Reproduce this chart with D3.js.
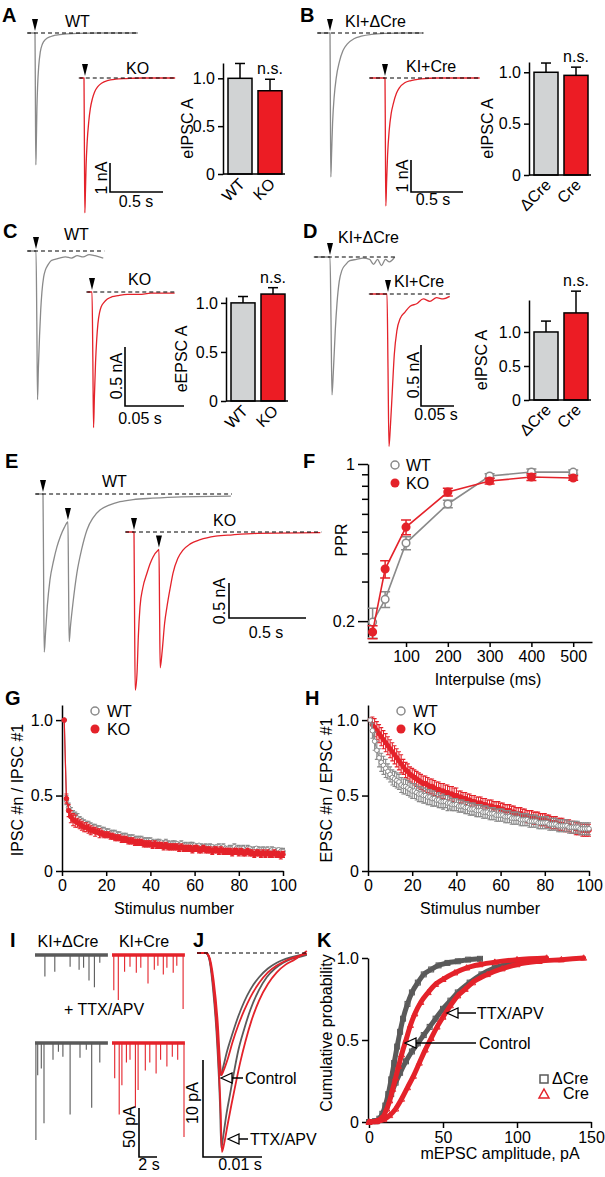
<!DOCTYPE html>
<html>
<head>
<meta charset="utf-8">
<script src="https://cdn.jsdelivr.net/npm/d3@7"></script>
<style>
  body { margin: 0; background: #fff; }
  svg { display: block; font-family: "Liberation Sans", Arial, Helvetica, sans-serif; }
</style>
</head>
<body>
<svg id="fig" width="605" height="1177"></svg>
<script>
// ---------- data ----------
// traces: [time (s), current (nA or pA)], stimulus at t = 0
const aWt = [[-0.066,0],[0,0],[0.004,-2.5],[0.008,-4.55],[0.012,-3.9],[0.018,-2.6],[0.025,-1.8],[0.035,-1.15],[0.05,-0.65],[0.07,-0.38],[0.1,-0.22],[0.15,-0.12],[0.2,-0.07],[0.3,-0.03],[0.4,-0.01],[0.6,0],[0.97,0]];
const aKo = [[-0.04,0],[0,0],[0.004,-2.5],[0.008,-4.65],[0.013,-4.0],[0.02,-3.0],[0.03,-2.2],[0.045,-1.5],[0.06,-1.05],[0.08,-0.7],[0.1,-0.48],[0.13,-0.3],[0.17,-0.17],[0.22,-0.09],[0.3,-0.04],[0.4,-0.02],[0.55,0],[0.86,0]];
const bDcre = [[-0.115,0],[0,0],[0.004,-2.5],[0.008,-4.5],[0.015,-3.8],[0.025,-2.8],[0.04,-2.0],[0.06,-1.4],[0.09,-0.9],[0.125,-0.55],[0.17,-0.33],[0.23,-0.18],[0.3,-0.1],[0.4,-0.04],[0.55,-0.01],[0.7,0],[0.89,0]];
const bCre = [[-0.144,0],[0,0],[0.004,-2.2],[0.008,-4.0],[0.015,-3.3],[0.025,-2.4],[0.04,-1.65],[0.06,-1.1],[0.08,-0.8],[0.11,-0.48],[0.14,-0.3],[0.19,-0.15],[0.25,-0.08],[0.35,-0.03],[0.5,0],[0.91,0]];
const cWt = [[-0.0068,0],[0,0],[0.0007,-0.6],[0.0013,-1.26],[0.002,-1.0],[0.003,-0.72],[0.004,-0.5],[0.005,-0.35],[0.0065,-0.22],[0.008,-0.16],[0.01,-0.12],[0.013,-0.08],[0.016,-0.07],[0.02,-0.06],[0.025,-0.05],[0.03,-0.06],[0.035,-0.04],[0.04,-0.05],[0.045,-0.03],[0.05,-0.04],[0.057,-0.06]];
const cKo = [[-0.004,0],[0,0],[0.0007,-0.55],[0.0013,-1.15],[0.002,-0.9],[0.003,-0.6],[0.004,-0.4],[0.005,-0.27],[0.0065,-0.17],[0.008,-0.12],[0.01,-0.09],[0.013,-0.06],[0.017,-0.04],[0.022,-0.03],[0.03,-0.02],[0.04,-0.02],[0.05,-0.01],[0.07,-0.01]];
const dDcre = [[-0.023,0],[0,0],[0.0015,-0.5],[0.003,-1.13],[0.005,-0.95],[0.008,-0.6],[0.0106,-0.38],[0.014,-0.2],[0.018,-0.11],[0.024,-0.06],[0.03,-0.03],[0.04,-0.02],[0.05,-0.01],[0.06,-0.02],[0.066,-0.06],[0.072,-0.02],[0.078,-0.07],[0.084,-0.02],[0.09,-0.04],[0.098,0]];
const dCre = [[-0.026,0],[0,0],[0.0015,-0.6],[0.003,-1.25],[0.005,-1.1],[0.008,-0.8],[0.011,-0.5],[0.015,-0.3],[0.02,-0.2],[0.027,-0.15],[0.035,-0.1],[0.045,-0.08],[0.055,-0.04],[0.065,-0.06],[0.075,-0.03],[0.085,-0.04],[0.095,-0.02]];
const eWt = [[-0.045,0],[0,0],[0.004,-1.2],[0.008,-2.26],[0.016,-2.0],[0.028,-1.6],[0.045,-1.23],[0.069,-0.95],[0.09,-0.76],[0.114,-0.6],[0.138,-0.48],[0.162,-0.4],[0.166,-1.3],[0.17,-2.11],[0.178,-1.9],[0.195,-1.55],[0.22,-1.13],[0.252,-0.78],[0.286,-0.51],[0.325,-0.34],[0.37,-0.23],[0.43,-0.16],[0.5,-0.11],[0.585,-0.08],[0.71,-0.06],[0.9,-0.04],[1.22,-0.03]];
const eKo = [[-0.052,0],[0,0],[0.004,-1.3],[0.008,-2.26],[0.02,-2.0],[0.028,-1.5],[0.039,-1.07],[0.057,-0.8],[0.084,-0.59],[0.105,-0.45],[0.123,-0.36],[0.156,-0.26],[0.162,-0.25],[0.166,-1.1],[0.17,-1.94],[0.183,-1.7],[0.199,-1.3],[0.214,-1.07],[0.235,-0.8],[0.253,-0.59],[0.284,-0.38],[0.318,-0.26],[0.365,-0.17],[0.43,-0.11],[0.53,-0.06],[0.64,-0.04],[0.8,-0.02],[1.21,-0.01]];
const ePulseTimes = [0, 0.162];

// bar graphs
const barLabelsWtKo = ['WT', 'KO'];
const barLabelsCre = ['\u0394Cre', 'Cre'];
const barAValues = [1.0, 0.87], barAErrors = [0.155, 0.12];
const barBValues = [1.0, 0.97], barBErrors = [0.09, 0.08];
const barCValues = [1.0, 1.09], barCErrors = [0.065, 0.065];
const barDValues = [1.0, 1.28], barDErrors = [0.16, 0.32];
const barTicks = [0, 0.5, 1.0];

// F: paired-pulse ratio
const fInterpulse = [20, 50, 100, 200, 300, 400, 500];
const fWt = [0.198, 0.25, 0.445, 0.664, 0.884, 0.921, 0.92];
const fWtErr = [0.03, 0.02, 0.03, 0.025, 0.02, 0.03, 0.02];
const fKo = [0.179, 0.341, 0.524, 0.75, 0.84, 0.875, 0.866];
const fKoErr = [0.012, 0.03, 0.04, 0.03, 0.025, 0.03, 0.02];
const fXTicks = [100, 200, 300, 400, 500];
const fYTicks = [0.2, 0.3, 0.4, 0.5, 0.6, 0.7, 0.8, 0.9, 1];

// G: IPSC train (stimulus 1..100)
const gWt = [
  1.00,0.47,0.42,0.39,0.37,0.36,0.35,0.34,0.33,0.32,
  0.31,0.31,0.30,0.29,0.29,0.28,0.28,0.27,0.27,0.26,
  0.26,0.25,0.25,0.25,0.24,0.24,0.23,0.23,0.23,0.22,
  0.22,0.22,0.21,0.21,0.21,0.21,0.20,0.20,0.20,0.20,
  0.19,0.19,0.19,0.19,0.19,0.18,0.19,0.18,0.18,0.18,
  0.18,0.18,0.17,0.18,0.17,0.17,0.17,0.17,0.17,0.17,
  0.16,0.17,0.16,0.16,0.16,0.16,0.16,0.16,0.15,0.16,
  0.16,0.15,0.16,0.15,0.15,0.15,0.15,0.16,0.15,0.15,
  0.15,0.15,0.14,0.15,0.15,0.14,0.14,0.15,0.14,0.14,
  0.14,0.14,0.14,0.13,0.14,0.14,0.13,0.14,0.13,0.13];
const gWtErr = [
  0,0.03,0.03,0.03,0.03,0.03,0.03,0.02,0.02,0.02,
  0.02,0.02,0.02,0.02,0.02,0.02,0.02,0.02,0.02,0.02,
  0.02,0.02,0.02,0.02,0.02,0.02,0.02,0.02,0.02,0.02,
  0.02,0.02,0.02,0.02,0.02,0.02,0.02,0.02,0.02,0.02,
  0.02,0.01,0.02,0.02,0.01,0.02,0.02,0.02,0.01,0.02,
  0.02,0.01,0.02,0.02,0.01,0.02,0.01,0.02,0.02,0.01,
  0.02,0.01,0.02,0.01,0.02,0.01,0.02,0.01,0.02,0.01,
  0.02,0.01,0.02,0.01,0.01,0.02,0.01,0.02,0.01,0.02,
  0.01,0.02,0.01,0.02,0.01,0.01,0.02,0.01,0.02,0.01,
  0.02,0.01,0.02,0.01,0.02,0.01,0.02,0.01,0.02,0.02];
const gKo = [
  1.00,0.48,0.40,0.36,0.34,0.33,0.32,0.31,0.30,0.29,
  0.29,0.28,0.27,0.27,0.26,0.26,0.25,0.25,0.24,0.24,
  0.24,0.23,0.23,0.22,0.22,0.22,0.21,0.21,0.21,0.20,
  0.20,0.20,0.19,0.19,0.19,0.19,0.18,0.18,0.18,0.18,
  0.17,0.18,0.17,0.17,0.17,0.16,0.17,0.16,0.16,0.16,
  0.16,0.16,0.15,0.16,0.15,0.15,0.15,0.15,0.14,0.15,
  0.15,0.14,0.14,0.15,0.14,0.14,0.14,0.13,0.14,0.14,
  0.13,0.14,0.13,0.13,0.13,0.13,0.12,0.13,0.13,0.12,
  0.13,0.12,0.12,0.13,0.12,0.12,0.11,0.12,0.12,0.11,
  0.12,0.11,0.12,0.11,0.11,0.12,0.11,0.11,0.10,0.11];
const gKoErr = [
  0,0.03,0.04,0.04,0.04,0.04,0.03,0.03,0.03,0.03,
  0.03,0.03,0.03,0.02,0.03,0.02,0.03,0.02,0.02,0.02,
  0.02,0.02,0.02,0.02,0.02,0.02,0.02,0.02,0.02,0.02,
  0.02,0.02,0.02,0.02,0.02,0.02,0.02,0.02,0.02,0.02,
  0.02,0.02,0.02,0.02,0.02,0.02,0.02,0.02,0.02,0.02,
  0.02,0.02,0.02,0.02,0.02,0.02,0.02,0.02,0.02,0.02,
  0.02,0.02,0.02,0.02,0.02,0.02,0.02,0.02,0.02,0.02,
  0.02,0.02,0.02,0.02,0.02,0.02,0.02,0.02,0.02,0.02,
  0.02,0.02,0.02,0.02,0.02,0.02,0.02,0.02,0.02,0.02,
  0.02,0.02,0.02,0.02,0.02,0.02,0.02,0.02,0.02,0.02];

// H: EPSC train
const hWt = [
  1.00,0.93,0.86,0.80,0.75,0.72,0.70,0.68,0.66,0.64,
  0.62,0.61,0.60,0.59,0.57,0.56,0.56,0.55,0.54,0.53,
  0.53,0.52,0.51,0.51,0.50,0.50,0.49,0.49,0.48,0.48,
  0.47,0.47,0.46,0.46,0.46,0.45,0.45,0.44,0.44,0.44,
  0.43,0.43,0.43,0.42,0.42,0.41,0.41,0.41,0.40,0.40,
  0.40,0.39,0.39,0.39,0.38,0.38,0.38,0.37,0.37,0.37,
  0.37,0.36,0.36,0.36,0.35,0.35,0.35,0.35,0.34,0.34,
  0.34,0.34,0.33,0.33,0.33,0.33,0.32,0.32,0.32,0.32,
  0.32,0.31,0.31,0.31,0.31,0.30,0.30,0.30,0.30,0.30,
  0.29,0.29,0.29,0.29,0.29,0.28,0.28,0.28,0.28,0.28];
const hWtErr = [
  0,0.05,0.06,0.06,0.06,0.06,0.06,0.06,0.05,0.05,
  0.05,0.05,0.05,0.05,0.05,0.05,0.05,0.05,0.05,0.05,
  0.05,0.05,0.05,0.05,0.05,0.05,0.05,0.05,0.05,0.05,
  0.04,0.05,0.04,0.05,0.04,0.05,0.04,0.04,0.04,0.04,
  0.04,0.04,0.04,0.04,0.04,0.04,0.04,0.04,0.04,0.04,
  0.04,0.04,0.04,0.04,0.04,0.04,0.04,0.04,0.04,0.04,
  0.04,0.04,0.04,0.04,0.04,0.04,0.04,0.04,0.04,0.04,
  0.04,0.04,0.04,0.04,0.04,0.04,0.04,0.04,0.04,0.04,
  0.04,0.04,0.04,0.04,0.04,0.04,0.04,0.04,0.04,0.04,
  0.04,0.04,0.04,0.04,0.04,0.04,0.04,0.04,0.04,0.04];
const hKo = [
  1.00,0.97,0.95,0.93,0.91,0.89,0.87,0.85,0.83,0.81,
  0.79,0.77,0.75,0.73,0.71,0.69,0.67,0.66,0.64,0.63,
  0.62,0.61,0.60,0.59,0.58,0.58,0.57,0.56,0.56,0.55,
  0.54,0.54,0.53,0.53,0.52,0.52,0.51,0.51,0.50,0.50,
  0.49,0.49,0.48,0.48,0.47,0.47,0.46,0.46,0.45,0.45,
  0.45,0.44,0.44,0.43,0.43,0.43,0.42,0.42,0.42,0.41,
  0.41,0.40,0.40,0.40,0.39,0.39,0.38,0.38,0.38,0.37,
  0.37,0.36,0.36,0.36,0.35,0.35,0.35,0.34,0.34,0.34,
  0.33,0.33,0.32,0.32,0.32,0.31,0.31,0.31,0.30,0.30,
  0.30,0.29,0.29,0.28,0.28,0.28,0.27,0.27,0.27,0.27];
const hKoErr = [
  0,0.05,0.06,0.06,0.06,0.06,0.06,0.06,0.06,0.06,
  0.06,0.06,0.06,0.06,0.06,0.05,0.05,0.05,0.05,0.05,
  0.05,0.05,0.05,0.05,0.05,0.05,0.05,0.05,0.05,0.05,
  0.05,0.05,0.05,0.05,0.05,0.05,0.05,0.05,0.05,0.05,
  0.04,0.04,0.04,0.04,0.04,0.04,0.04,0.04,0.04,0.04,
  0.04,0.04,0.04,0.04,0.04,0.04,0.04,0.04,0.04,0.04,
  0.04,0.04,0.04,0.04,0.04,0.04,0.04,0.04,0.04,0.04,
  0.04,0.04,0.04,0.04,0.04,0.04,0.04,0.04,0.04,0.04,
  0.04,0.04,0.04,0.04,0.04,0.04,0.04,0.04,0.04,0.04,
  0.04,0.04,0.04,0.04,0.04,0.04,0.04,0.04,0.04,0.04];
const trainXTicks = [0, 20, 40, 60, 80, 100];

// I: mEPSC events, time (s) and amplitude (pA)
const iCtrlDcreTime = [1.1, 2.2, 3.9, 4.9, 5.4, 6.0, 6.6, 7.2];
const iCtrlDcreAmp = [22, 17, 12, 15, 13, 26, 33, 8];
const iCtrlCreTime = [0.2, 0.7, 1.4, 2.0, 2.7, 3.2, 4.0, 4.7, 5.1, 5.7, 6.1, 6.8, 7.2, 7.9];
const iCtrlCreAmp = [36, 46, 17, 12, 18, 13, 29, 15, 11, 20, 13, 18, 11, 55];
const iTtxDcreTime = [0.1, 0.3, 0.7, 1.0, 2.0, 2.6, 3.1, 3.9, 5.0, 5.7, 6.3, 7.2];
const iTtxDcreAmp = [99, 33, 26, 82, 17, 9, 14, 73, 15, 7, 66, 20];
const iTtxCreTime = [0.3, 0.8, 1.1, 1.6, 2.0, 2.6, 2.9, 3.7, 4.2, 4.9, 5.4, 6.1, 6.7, 7.3, 8.0];
const iTtxCreAmp = [36, 73, 43, 20, 17, 66, 48, 28, 20, 31, 17, 24, 14, 17, 96];
const iDuration = 8.1;

// J: averaged mEPSCs, [time (s), pA]
const jCtrlDcre = [[-0.001,0],[0.0005,0],[0.001,-0.4],[0.0017,-3.0],[0.0024,-7.5],[0.0028,-11.5],[0.003,-12.6],[0.0034,-11.8],[0.004,-10.3],[0.005,-8.3],[0.006,-6.5],[0.007,-5.0],[0.008,-3.8],[0.0095,-2.5],[0.011,-1.6],[0.0125,-1.0],[0.014,-0.6],[0.0155,-0.35],[0.0176,-0.1]];
const jCtrlCre = [[-0.001,0],[0.0005,0],[0.001,-0.3],[0.0018,-2.8],[0.0025,-7.2],[0.0029,-11.3],[0.0031,-12.6],[0.0035,-12.1],[0.0042,-10.9],[0.005,-9.2],[0.006,-7.4],[0.007,-5.9],[0.008,-4.6],[0.0095,-3.1],[0.011,-2.0],[0.0125,-1.3],[0.014,-0.8],[0.0155,-0.45],[0.0176,-0.1]];
const jTtxDcre = [[-0.001,0],[0.0005,0],[0.001,-0.5],[0.0017,-3.7],[0.0024,-9.3],[0.0029,-16],[0.0031,-20.1],[0.0034,-19],[0.004,-16.5],[0.0046,-14.5],[0.0051,-12.8],[0.006,-10],[0.007,-7.8],[0.008,-5.9],[0.0095,-3.8],[0.0108,-2.5],[0.0122,-1.6],[0.0136,-1.0],[0.015,-0.6],[0.0164,-0.4],[0.0176,-0.2]];
const jTtxCre = [[-0.001,0],[0.0005,0],[0.001,-0.4],[0.0018,-3.8],[0.0025,-9.6],[0.003,-16.5],[0.0032,-20.5],[0.0036,-19.6],[0.0042,-17.6],[0.0048,-15.7],[0.0055,-13.6],[0.0063,-11.3],[0.0072,-9.1],[0.0082,-7.0],[0.0095,-4.9],[0.011,-3.2],[0.0125,-2.0],[0.014,-1.2],[0.0155,-0.7],[0.0176,0.2]];

// K: cumulative distributions, [amplitude (pA), probability]
const kCtrlDcre = [[0,0],[4,0.005],[7,0.02],[9,0.05],[11,0.1],[13,0.17],[15,0.26],[17,0.36],[19,0.46],[21,0.55],[23,0.63],[26,0.72],[29,0.79],[33,0.85],[37,0.9],[42,0.93],[47,0.955],[53,0.97],[60,0.98],[67,0.99],[75,0.995]];
const kCtrlCre = [[0,0],[5,0.005],[8,0.02],[10,0.04],[12,0.08],[14,0.13],[16,0.2],[18,0.27],[20,0.34],[22,0.41],[25,0.5],[28,0.59],[31,0.66],[35,0.73],[40,0.79],[45,0.84],[50,0.87],[58,0.91],[66,0.94],[75,0.96],[85,0.975],[100,0.99],[120,1.0]];
const kTtxDcre = [[0,0],[5,0.005],[8,0.02],[10,0.05],[12,0.1],[15,0.17],[18,0.24],[21,0.3],[25,0.37],[29,0.43],[33,0.48],[37,0.53],[41,0.58],[45,0.63],[50,0.69],[55,0.74],[60,0.79],[68,0.85],[76,0.9],[85,0.94],[95,0.965],[105,0.98],[115,0.99]];
const kTtxCre = [[0,0],[5,0.003],[10,0.015],[14,0.04],[18,0.08],[22,0.14],[26,0.21],[30,0.28],[34,0.36],[38,0.44],[42,0.51],[46,0.58],[50,0.64],[55,0.71],[60,0.77],[65,0.81],[70,0.85],[80,0.9],[90,0.935],[100,0.96],[115,0.98],[130,0.99],[145,1.0]];
const kXTicks = [0, 50, 100, 150];
const kYTicks = [0, 0.5, 1.0];

// ---------- drawing ----------
const GRAY = '#8a8a8a', DARK = '#5a5a5a', RED = '#e4222a';
const BAR_GRAY = '#d1d3d4', BAR_RED = '#ec1c24';
const FONT = '"Liberation Sans", Arial, Helvetica, sans-serif';

const svg = d3.select('#fig');
svg.append('rect').attr('width', 605).attr('height', 1177).attr('fill', '#fff');

function label(x, y, txt, opts = {}) {
  const t = svg.append('text')
    .attr('x', x).attr('y', y)
    .attr('font-size', opts.size || 16)
    .attr('fill', opts.fill || '#000')
    .attr('text-anchor', opts.anchor || 'start')
    .text(txt);
  if (opts.bold) t.attr('font-weight', 'bold');
  if (opts.rotate) t.attr('transform', `rotate(${opts.rotate},${x},${y})`);
  return t;
}

function styleAxis(g, size = 16) {
  g.attr('font-size', size).attr('font-family', FONT);
  g.selectAll('path, line').attr('stroke', '#000').attr('stroke-width', 1.5);
  g.selectAll('text').attr('fill', '#000');
}

// scales for a single trace: stimulus position and baseline
function traceScales(stimX, baseY, pxPerS, pxPerUnit) {
  return {
    x: d3.scaleLinear().domain([0, 1]).range([stimX, stimX + pxPerS]),
    y: d3.scaleLinear().domain([0, -1]).range([baseY, baseY + pxPerUnit])
  };
}

function drawTrace(data, sc, color, width = 1.3, dashed = true) {
  svg.append('path').datum(data)
    .attr('d', d3.line().x(d => sc.x(d[0])).y(d => sc.y(d[1])).curve(d3.curveMonotoneX))
    .attr('fill', 'none').attr('stroke', color).attr('stroke-width', width)
    .attr('stroke-linejoin', 'round');
  if (dashed) {
    svg.append('line')
      .attr('x1', sc.x(data[0][0]) - 1).attr('x2', sc.x(data[data.length - 1][0]) + 1)
      .attr('y1', sc.y(0)).attr('y2', sc.y(0))
      .attr('stroke', '#000').attr('stroke-width', 1.2).attr('stroke-dasharray', '4,3');
  }
}

function arrowhead(x, tipY) {
  svg.append('path')
    .attr('d', `M${x - 3},${tipY - 12}L${x + 3},${tipY - 12}L${x},${tipY}Z`)
    .attr('fill', '#000');
}

function valueAt(data, t) {
  return data.reduce((best, d) => Math.abs(d[0] - t) < Math.abs(best[0] - t) ? d : best)[1];
}

function scaleBar(sc, x0, y1, tUnit, iUnit) {
  const h = sc.y(-iUnit) - sc.y(0);
  const w = sc.x(tUnit) - sc.x(0);
  svg.append('path')
    .attr('d', `M${x0},${y1 - h}V${y1}H${x0 + w}`)
    .attr('fill', 'none').attr('stroke', '#000').attr('stroke-width', 1.6);
}

function barPanel(opts) {
  const { axisX, y0, yTop, domainTop, labels, values, errors, yLabel, yLabelX } = opts;
  const y = d3.scaleLinear().domain([0, domainTop]).range([y0, yTop]);
  const x = d3.scaleBand().domain(labels).range([axisX + 2, axisX + 62]).paddingInner(0.2).paddingOuter(0.1);
  const fills = [BAR_GRAY, BAR_RED];
  labels.forEach((l, i) => {
    const cx = x(l) + x.bandwidth() / 2;
    const top = y(values[i] + errors[i]);
    svg.append('line').attr('x1', cx).attr('x2', cx).attr('y1', y(values[i])).attr('y2', top)
      .attr('stroke', '#000').attr('stroke-width', 1.5);
    svg.append('line').attr('x1', cx - 5).attr('x2', cx + 5).attr('y1', top).attr('y2', top)
      .attr('stroke', '#000').attr('stroke-width', 1.5);
    svg.append('rect').attr('x', x(l)).attr('y', y(values[i]))
      .attr('width', x.bandwidth()).attr('height', y0 - y(values[i]))
      .attr('fill', fills[i]).attr('stroke', '#000').attr('stroke-width', 1.5);
    label(cx + 6, y0 + 11, l, { anchor: 'end', rotate: -45 });
  });
  const ax = svg.append('g').attr('transform', `translate(${axisX},0)`)
    .call(d3.axisLeft(y).tickValues(barTicks).tickSize(5).tickSizeOuter(0)
      .tickFormat(d => d === 0 ? '0' : d.toFixed(1)));
  styleAxis(ax);
  svg.append('line').attr('x1', axisX).attr('x2', axisX + 62).attr('y1', y0).attr('y2', y0)
    .attr('stroke', '#000').attr('stroke-width', 1.5);
  const cx2 = x(labels[1]) + x.bandwidth() / 2;
  label(cx2, y(values[1] + errors[1]) - 5, 'n.s.', { anchor: 'middle' });
  label(yLabelX, (y0 + yTop) / 2 + 10, yLabel, { anchor: 'middle', rotate: -90 });
}

// ---- panel letters ----
[['A', 2, 22], ['B', 300, 22], ['C', 3, 238], ['D', 303, 238], ['E', 5, 468], ['F', 303, 468],
 ['G', 5, 705], ['H', 305, 705], ['I', 10, 947], ['J', 193, 947], ['K', 317, 947]]
  .forEach(([t, x, y]) => label(x, y, t, { size: 20, bold: true }));

// ---- A ----
const aWtSc = traceScales(35, 33, 106, 29), aKoSc = traceScales(84, 78, 106, 29);
drawTrace(aWt, aWtSc, GRAY); drawTrace(aKo, aKoSc, RED);
arrowhead(35, 31); arrowhead(85, 76);
label(65, 27, 'WT'); label(126, 74, 'KO');
scaleBar(aKoSc, 110, 192, 0.5, 1);
label(107, 178, '1 nA', { anchor: 'middle', rotate: -90 });
label(136, 207, '0.5 s', { anchor: 'middle' });
barPanel({ axisX: 223, y0: 174, yTop: 63, domainTop: 1.16, labels: barLabelsWtKo,
  values: barAValues, errors: barAErrors, yLabel: 'eIPSC A', yLabelX: 193 });

// ---- B ----
const bDSc = traceScales(330, 33, 104, 32), bCSc = traceScales(385, 78, 104, 32);
drawTrace(bDcre, bDSc, GRAY); drawTrace(bCre, bCSc, RED);
arrowhead(330, 31); arrowhead(385, 76);
label(345, 27, 'KI+\u0394Cre'); label(406, 72, 'KI+Cre');
scaleBar(bCSc, 411, 192, 0.5, 1);
label(408, 176, '1 nA', { anchor: 'middle', rotate: -90 });
label(433, 205, '0.5 s', { anchor: 'middle' });
barPanel({ axisX: 529, y0: 175, yTop: 62, domainTop: 1.1, labels: barLabelsCre,
  values: barBValues, errors: barBErrors, yLabel: 'eIPSC A', yLabelX: 493 });

// ---- C ----
const cWSc = traceScales(36, 251, 1180, 118), cKSc = traceScales(92, 292, 1180, 118);
drawTrace(cWt, cWSc, GRAY); drawTrace(cKo, cKSc, RED);
arrowhead(36, 249); arrowhead(92, 290);
label(64, 240, 'WT'); label(128, 285, 'KO');
scaleBar(cKSc, 125, 406, 0.05, 0.5);
label(122, 376, '0.5 nA', { anchor: 'middle', rotate: -90 });
label(140, 424, '0.05 s', { anchor: 'middle' });
barPanel({ axisX: 226, y0: 401, yTop: 297, domainTop: 1.06, labels: barLabelsWtKo,
  values: barCValues, errors: barCErrors, yLabel: 'eEPSC A', yLabelX: 187 });

// ---- D ----
const dDSc = traceScales(330, 257, 660, 122), dCSc = traceScales(387, 294, 660, 122);
drawTrace(dDcre, dDSc, GRAY); drawTrace(dCre, dCSc, RED);
arrowhead(330, 255); arrowhead(388, 292);
label(338, 243, 'KI+\u0394Cre'); label(394, 287, 'KI+Cre');
scaleBar(dCSc, 421, 406, 0.05, 0.5);
label(419, 375, '0.5 nA', { anchor: 'middle', rotate: -90 });
label(436, 420, '0.05 s', { anchor: 'middle' });
barPanel({ axisX: 529, y0: 400, yTop: 300, domainTop: 1.47, labels: barLabelsCre,
  values: barDValues, errors: barDErrors, yLabel: 'eIPSC A', yLabelX: 487 });

// ---- E ----
const eWSc = traceScales(43, 494, 154, 70), eKSc = traceScales(134, 532, 154, 70);
drawTrace(eWt, eWSc, GRAY); drawTrace(eKo, eKSc, RED);
ePulseTimes.forEach(t => {
  arrowhead(eWSc.x(t), eWSc.y(valueAt(eWt, t)) - 2);
  arrowhead(eKSc.x(t), eKSc.y(valueAt(eKo, t)) - 2);
});
label(102, 487, 'WT'); label(213, 526, 'KO');
scaleBar(eKSc, 229, 618, 0.5, 0.5);
label(225, 601, '0.5 nA', { anchor: 'middle', rotate: -90 });
label(266, 638, '0.5 s', { anchor: 'middle' });

// ---- F ----
{
  const x = d3.scaleLinear().domain([9, 545]).range([368, 592]);
  const y = d3.scaleLog().domain([0.17, 1]).range([637, 464]);
  const xa = svg.append('g').attr('transform', 'translate(0,642)')
    .call(d3.axisBottom(x).tickValues(fXTicks).tickSize(5).tickSizeOuter(0).tickPadding(4));
  styleAxis(xa);
  const ya = svg.append('g').attr('transform', 'translate(368,0)')
    .call(d3.axisLeft(y).tickValues(fYTicks).tickSize(6).tickSizeOuter(0)
      .tickFormat(d => d === 1 ? '1' : d === 0.2 ? '0.2' : ''));
  styleAxis(ya);
  ya.selectAll('.tick').filter(d => d === 1 || d === 0.2).select('line').attr('x2', -10);
  ya.selectAll('.tick').filter(d => d === 1 || d === 0.2).select('text').attr('x', -13);
  label(488, 685, 'Interpulse (ms)', { anchor: 'middle' });
  label(347, 540, 'PPR', { anchor: 'middle', rotate: -90 });
  const series = [[fWt, fWtErr, GRAY, false], [fKo, fKoErr, RED, true]];
  series.forEach(([vals, errs, col, filled]) => {
    svg.append('path').datum(vals)
      .attr('d', d3.line().x((d, i) => x(fInterpulse[i])).y(d => y(d)))
      .attr('fill', 'none').attr('stroke', col).attr('stroke-width', 1.6);
    vals.forEach((v, i) => {
      const cx = x(fInterpulse[i]);
      svg.append('path')
        .attr('d', `M${cx - 5},${y(v + errs[i])}H${cx + 5}M${cx},${y(v + errs[i])}V${y(v - errs[i])}M${cx - 5},${y(v - errs[i])}H${cx + 5}`)
        .attr('stroke', col).attr('stroke-width', 1.5).attr('fill', 'none');
      svg.append('circle').attr('cx', cx).attr('cy', y(v)).attr('r', 3.8)
        .attr('fill', filled ? col : '#fff').attr('stroke', col).attr('stroke-width', 1.5);
    });
  });
  svg.append('circle').attr('cx', 395).attr('cy', 465).attr('r', 4).attr('fill', '#fff').attr('stroke', GRAY).attr('stroke-width', 1.5);
  svg.append('circle').attr('cx', 395).attr('cy', 483).attr('r', 4.5).attr('fill', RED);
  label(406, 471, 'WT'); label(406, 489, 'KO');
}

// ---- G / H ----
function trainPanel(axisX, wt, wtErr, ko, koErr, yLabel, yLabelX, koOnTop) {
  const x = d3.scaleLinear().domain([0, 100]).range([axisX, axisX + 221]);
  const y = d3.scaleLinear().domain([0, 1.1]).range([871, 705]);
  const xa = svg.append('g').attr('transform', 'translate(0,871)')
    .call(d3.axisBottom(x).tickValues(trainXTicks).tickSize(5).tickSizeOuter(0).tickPadding(4));
  styleAxis(xa);
  const ya = svg.append('g').attr('transform', `translate(${axisX},0)`)
    .call(d3.axisLeft(y).tickValues([0, 0.5, 1]).tickSize(6).tickSizeOuter(0)
      .tickFormat(d => d === 0 ? '0' : d.toFixed(1)));
  styleAxis(ya);
  const drawSeries = (vals, errs, col, filled) => {
    svg.append('path').datum(vals)
      .attr('d', d3.line().x((d, i) => x(i + 1)).y(d => y(d)))
      .attr('fill', 'none').attr('stroke', col).attr('stroke-width', 1.2);
    vals.forEach((v, i) => {
      if (!errs[i]) return;
      const cx = x(i + 1);
      svg.append('path')
        .attr('d', `M${cx - 2},${y(v + errs[i])}H${cx + 2}M${cx},${y(v + errs[i])}V${y(v - errs[i])}M${cx - 2},${y(v - errs[i])}H${cx + 2}`)
        .attr('stroke', col).attr('stroke-width', 1.1).attr('fill', 'none');
    });
    svg.append('g').selectAll('circle').data(vals).join('circle')
      .attr('cx', (d, i) => x(i + 1)).attr('cy', d => y(d)).attr('r', 2.3)
      .attr('fill', filled ? col : '#fff').attr('stroke', col).attr('stroke-width', 1);
  };
  if (koOnTop) { drawSeries(wt, wtErr, GRAY, false); drawSeries(ko, koErr, RED, true); }
  else { drawSeries(ko, koErr, RED, true); drawSeries(wt, wtErr, GRAY, false); }
  label(axisX + 112, 914, 'Stimulus number', { anchor: 'middle' });
  label(yLabelX, 790, yLabel, { anchor: 'middle', rotate: -90 });
  svg.append('circle').attr('cx', axisX + 33).attr('cy', 711).attr('r', 4).attr('fill', '#fff').attr('stroke', GRAY).attr('stroke-width', 1.5);
  svg.append('circle').attr('cx', axisX + 33).attr('cy', 729).attr('r', 4.5).attr('fill', RED);
  label(axisX + 45, 717, 'WT'); label(axisX + 45, 735, 'KO');
}
trainPanel(62, gWt, gWtErr, gKo, gKoErr, 'IPSC #n / IPSC #1', 23, true);
trainPanel(368, hWt, hWtErr, hKo, hKoErr, 'EPSC #n / EPSC #1', 332, false);

// ---- I ----
function eventTrace(x0, baseY, times, amps, color) {
  const x = d3.scaleLinear().domain([0, 2]).range([x0, x0 + 18]);
  const y = d3.scaleLinear().domain([0, 50]).range([baseY, baseY + 49]);
  svg.append('line').attr('x1', x(0)).attr('x2', x(iDuration)).attr('y1', y(0)).attr('y2', y(0))
    .attr('stroke', color).attr('stroke-width', 3.5);
  svg.append('g').selectAll('line').data(times).join('line')
    .attr('x1', d => x(d)).attr('x2', d => x(d))
    .attr('y1', y(0)).attr('y2', (d, i) => y(amps[i]))
    .attr('stroke', color).attr('stroke-width', 1.1);
  return { x, y };
}
eventTrace(35, 955, iCtrlDcreTime, iCtrlDcreAmp, DARK);
eventTrace(112, 955, iCtrlCreTime, iCtrlCreAmp, RED);
eventTrace(35, 1043, iTtxDcreTime, iTtxDcreAmp, DARK);
const iSc = eventTrace(112, 1043, iTtxCreTime, iTtxCreAmp, RED);
label(68, 947, 'KI+\u0394Cre', { anchor: 'middle' });
label(144, 947, 'KI+Cre', { anchor: 'middle' });
label(104, 1015, '+ TTX/APV', { anchor: 'middle' });
svg.append('path')
  .attr('d', `M139,${1157 - (iSc.y(50) - iSc.y(0))}V1157H${139 + (iSc.x(2) - iSc.x(0))}`)
  .attr('fill', 'none').attr('stroke', '#000').attr('stroke-width', 1.6);
label(135, 1127, '50 pA', { anchor: 'middle', rotate: -90 });
label(149, 1170, '2 s', { anchor: 'middle' });

// ---- J ----
const jSc = traceScales(203, 953, 5900, 9.7);
[[jCtrlDcre, DARK], [jTtxDcre, DARK], [jCtrlCre, RED], [jTtxCre, RED]]
  .forEach(([d, c]) => drawTrace(d, jSc, c, 1.8, false));
svg.append('line').attr('x1', 197).attr('x2', 307).attr('y1', 953).attr('y2', 953)
  .attr('stroke', '#000').attr('stroke-width', 1.2).attr('stroke-dasharray', '4,3');
scaleBar(jSc, 203, 1157, 0.01, 10);
label(198, 1103, '10 pA', { anchor: 'middle', rotate: -90 });
label(240, 1170, '0.01 s', { anchor: 'middle' });

function openArrow(tipX, tipY, lineEnd) {
  svg.append('path').attr('d', `M${tipX},${tipY}L${tipX + 11},${tipY - 5}L${tipX + 11},${tipY + 5}Z`)
    .attr('fill', '#fff').attr('stroke', '#000').attr('stroke-width', 1.3);
  svg.append('line').attr('x1', tipX + 11).attr('x2', lineEnd).attr('y1', tipY).attr('y2', tipY)
    .attr('stroke', '#000').attr('stroke-width', 1.5);
}
openArrow(221, 1078, 243); label(245, 1084, 'Control');
openArrow(228, 1139, 248); label(250, 1145, 'TTX/APV');

// ---- K ----
{
  const x = d3.scaleLinear().domain([0, 150]).range([369, 591]);
  const y = d3.scaleLinear().domain([0, 1]).range([1122, 958]);
  const xa = svg.append('g').attr('transform', 'translate(0,1122)')
    .call(d3.axisBottom(x).tickValues(kXTicks).tickSize(6).tickSizeOuter(0).tickPadding(4));
  styleAxis(xa);
  const ya = svg.append('g').attr('transform', 'translate(368,0)')
    .call(d3.axisLeft(y).tickValues(kYTicks).tickSize(6).tickSizeOuter(0)
      .tickFormat(d => d === 0 ? '0' : d.toFixed(1)));
  styleAxis(ya);
  const line = d3.line().x(d => x(d[0])).y(d => y(d[1])).curve(d3.curveMonotoneX);
  const curve = (data, col, marker) => {
    svg.append('path').datum(data).attr('d', line)
      .attr('fill', 'none').attr('stroke', col).attr('stroke-width', 5).attr('stroke-linecap', 'round');
    data.forEach(d => {
      const cx = x(d[0]), cy = y(d[1]);
      if (marker === 'sq') {
        svg.append('rect').attr('x', cx - 2.5).attr('y', cy - 2.5).attr('width', 5).attr('height', 5)
          .attr('fill', 'none').attr('stroke', col).attr('stroke-width', 1);
      } else {
        svg.append('path').attr('d', `M${cx},${cy - 3.2}L${cx + 3},${cy + 2.2}L${cx - 3},${cy + 2.2}Z`)
          .attr('fill', 'none').attr('stroke', col).attr('stroke-width', 1);
      }
    });
  };
  curve(kTtxDcre, DARK, 'sq');
  curve(kCtrlDcre, DARK, 'sq');
  curve(kTtxCre, RED, 'tri');
  curve(kCtrlCre, RED, 'tri');
  openArrow(447, 1013, 476); label(477, 1019, 'TTX/APV');
  openArrow(405, 1043, 476); label(479, 1049, 'Control');
  svg.append('rect').attr('x', 540).attr('y', 1075).attr('width', 8).attr('height', 8)
    .attr('fill', 'none').attr('stroke', DARK).attr('stroke-width', 1.5);
  label(552, 1084, '\u0394Cre');
  svg.append('path').attr('d', 'M544,1089L549,1098L539,1098Z')
    .attr('fill', 'none').attr('stroke', RED).attr('stroke-width', 1.5);
  label(563, 1099, 'Cre');
  label(500, 1159, 'mEPSC amplitude, pA', { anchor: 'middle' });
  label(332, 1033, 'Cumulative probability', { anchor: 'middle', rotate: -90 });
}
</script>
</body>
</html>
